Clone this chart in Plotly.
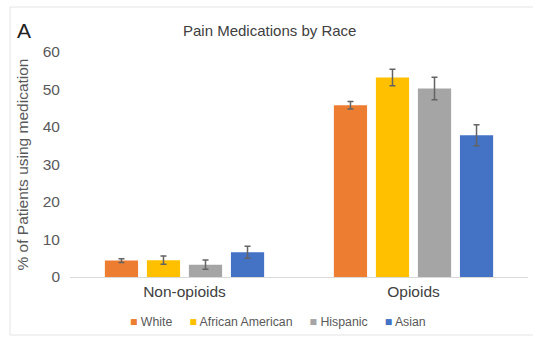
import plotly.graph_objects as go

# Data
categories = ["Non-opioids", "Opioids"]
races = ["White", "African American", "Hispanic", "Asian"]
pct_values = {
    "White": [4.4, 45.8],
    "African American": [4.5, 53.2],
    "Hispanic": [3.3, 50.3],
    "Asian": [6.6, 37.8],
}
pct_errors = {
    "White": [0.5, 1.0],
    "African American": [1.1, 2.2],
    "Hispanic": [1.25, 3.0],
    "Asian": [1.6, 2.8],
}
colors = {
    "White": "#ED7D31",
    "African American": "#FFC000",
    "Hispanic": "#A5A5A5",
    "Asian": "#4472C4",
}

FONT = "Liberation Sans, Arial, sans-serif"
TEXT_GRAY = "#595959"

fig = go.Figure()

for race in races:
    fig.add_trace(go.Bar(
        name=race,
        x=categories,
        y=pct_values[race],
        marker=dict(color=colors[race], line=dict(width=0)),
        error_y=dict(type="data", array=pct_errors[race], visible=True,
                     color="#636363", thickness=1.5, width=3),
        showlegend=False,
    ))

W, H = 533, 337
L, R, T, B = 70, 5, 52, 60
pw = W - L - R
ph = H - T - B

def px_x(x):
    return (x - L) / pw

def px_y(y):
    return (H - B - y) / ph

fig.update_layout(
    width=W, height=H,
    margin=dict(l=L, r=R, t=T, b=B),
    paper_bgcolor="white",
    plot_bgcolor="white",
    font=dict(family=FONT, color=TEXT_GRAY),
    barmode="group",
    bargap=0.266,
    bargroupgap=0.21,
    showlegend=False,
    xaxis=dict(
        showgrid=False, showline=True, linecolor="#D9D9D9", linewidth=1,
        ticks="", tickfont=dict(size=15.5, color="#404040"),
        fixedrange=True,
    ),
    yaxis=dict(
        range=[0, 60], dtick=10, showgrid=False, zeroline=False,
        showline=False, ticks="", ticklabelstandoff=9,
        tickfont=dict(size=15.5, color=TEXT_GRAY),
        title=dict(text="% of Patients using medication",
                   font=dict(size=15.5, color=TEXT_GRAY), standoff=10),
    ),
)

# Compact legend row: small colored squares next to each series name
gap = "&nbsp;" * 5
legend_text = gap.join(
    f'<span style="color:{colors[r]}">■</span> {r}' for r in races
)
fig.add_annotation(text=legend_text, xref="paper", yref="paper",
                   x=px_x(278), y=px_y(322), xanchor="center", yanchor="middle",
                   showarrow=False, font=dict(size=12.3, color=TEXT_GRAY))

# Chart title and panel letter
fig.add_annotation(text="Pain Medications by Race", xref="paper", yref="paper",
                   x=px_x(269), y=px_y(30), xanchor="center", yanchor="middle",
                   showarrow=False, font=dict(size=15, color="#404040"))
fig.add_annotation(text="A", xref="paper", yref="paper",
                   x=px_x(15), y=px_y(30), xanchor="left", yanchor="middle",
                   showarrow=False, font=dict(size=21, color="#222222"))

# Light frame around the panel
frame = dict(type="line", xref="paper", yref="paper",
             line=dict(color="#E4E4E4", width=1))
fig.add_shape(**frame, x0=px_x(10), x1=px_x(W), y0=px_y(7), y1=px_y(7))
fig.add_shape(**frame, x0=px_x(10), x1=px_x(10), y0=px_y(7), y1=px_y(335))
fig.add_shape(**frame, x0=px_x(10), x1=px_x(W), y0=px_y(335), y1=px_y(335))

fig.write_html("out.html")
